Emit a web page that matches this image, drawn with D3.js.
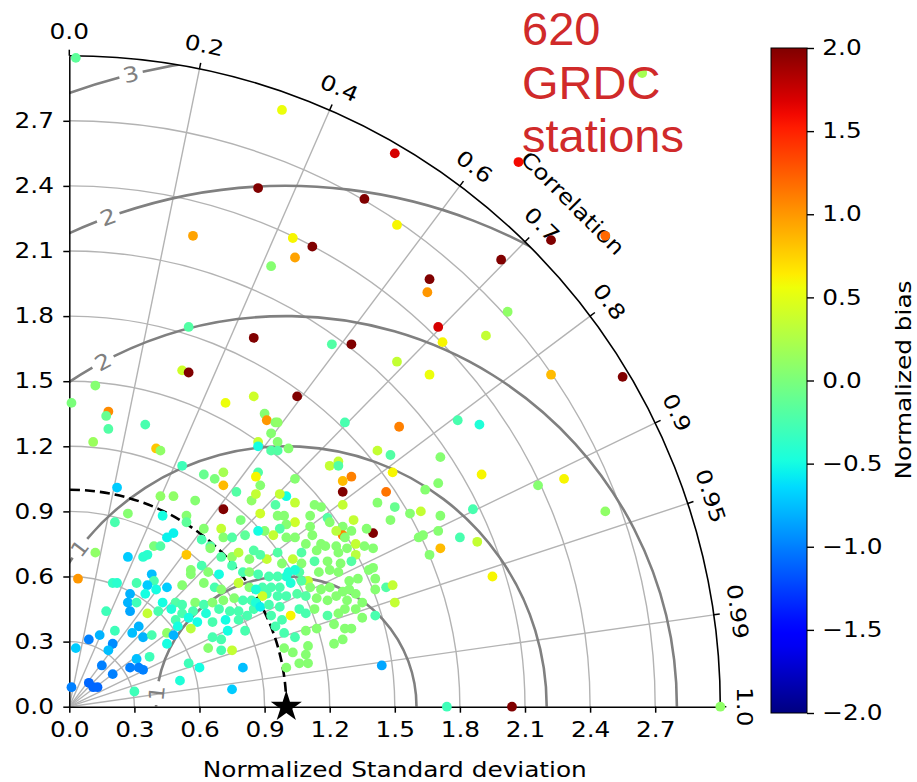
<!DOCTYPE html>
<html>
<head>
<meta charset="utf-8">
<script src="https://cdn.jsdelivr.net/npm/d3@7"></script>
<style>
  html, body { margin: 0; padding: 0; background: #fff; }
  svg { display: block; font-family: 'DejaVu Sans', sans-serif; }
</style>
</head>
<body>
<svg id="chart" width="917" height="782"></svg>
<script>
// normalized std of each station, split on the two "Normalized Standard deviation" axes
const sdX = [
  0.03, 0.87, 0.57, 0.98, 1.50, 1.36, 1.51, 1.03, 1.12, 1.04,
  1.99, 2.64, 2.07, 2.22, 2.47,
  0.93, 1.66, 1.65, 2.02, 1.70, 1.72, 1.92, 0.85, 1.21, 1.30,
  1.51, 1.66, 1.05, 0.85, 0.90, 0.91, 0.95, 0.96, 1.27, 1.52,
  1.79, 1.89, 0.93, 0.87, 0.96, 0.93, 0.96, 0.87, 1.01, 1.42,
  1.48, 1.71, 1.20, 1.24, 1.24, 1.49, 1.90, 1.30, 0.87, 0.86,
  1.86,
  0.55, 0.52, 0.55, 0.12, 0.01, 0.18, 0.17, 0.72,
  2.22, 2.55, 2.16, 2.28, 2.47, 2.04, 3.00, 1.88, 1.95, 1.74, 1.44,
  0.18, 0.35, 0.11, 0.40, 0.42, 0.52, 0.62, 0.67, 0.71, 0.71,
  0.22, 0.77, 0.42, 0.48, 0.58, 0.71, 0.84, 0.27, 0.43, 0.54,
  0.21, 0.54, 0.62, 0.70, 0.79, 0.81, 0.48, 0.45, 0.61, 0.71,
  0.65, 0.75, 0.39, 0.42, 0.12, 0.27, 0.34, 0.36, 0.54, 0.65,
  0.70, 0.75, 0.78, 0.83, 0.85, 0.38, 0.61, 0.56, 0.64, 0.69,
  0.75, 0.80, 0.83, 0.04, 0.20, 0.22, 0.31, 0.39, 0.36, 0.45,
  0.28, 0.35, 0.40, 0.52, 0.56, 0.62, 0.67, 0.70, 0.78, 0.83,
  0.27, 0.31, 0.43, 0.49, 0.52, 0.58, 0.62, 0.66, 0.71, 0.76,
  0.80, 0.84, 0.28, 0.36, 0.41, 0.47, 0.52, 0.57, 0.63, 0.69,
  0.74, 0.78, 0.85, 0.17, 0.49, 0.55, 0.59, 0.66, 0.72, 0.78,
  0.82, 0.32, 0.45, 0.56, 0.50, 0.21, 0.29, 0.66, 0.73, 0.81,
  0.09, 0.14, 0.20, 0.34, 0.38, 0.45, 0.48, 0.70, 0.75, 0.64,
  0.70, 0.03, 0.18, 0.31, 0.37, 0.15, 0.20, 0.28, 0.32, 0.34,
  0.55, 0.60, 0.80, 0.51, 0.75, 0.09, 0.11, 0.13, 0.01, 0.30,
  1.26, 1.26, 1.46, 1.42, 1.50, 1.48, 1.57, 1.62, 1.71, 1.70,
  1.63, 1.61, 1.80, 1.71, 1.66, 1.40, 1.37, 1.30, 1.31, 1.26,
  1.26, 1.23, 1.26, 1.19, 1.16, 1.04, 1.04, 1.00, 0.95, 0.88,
  0.86, 0.88, 0.96, 0.99, 1.04, 1.11, 1.13, 1.20, 1.27, 1.32,
  1.36, 1.40, 1.00, 0.97, 0.94, 0.90, 0.87, 1.11, 1.12, 1.16,
  1.18, 1.23, 1.28, 1.32, 1.24, 1.14, 1.09, 1.04, 1.00, 1.07,
  1.03, 0.96, 0.91, 0.88, 0.98, 1.07, 1.13, 1.19, 1.25, 1.30,
  1.38, 1.40, 1.41, 1.46, 1.49, 1.50, 1.41, 1.35, 1.32, 1.29,
  1.24, 1.20, 1.15, 1.10, 1.06, 1.01, 1.04, 1.00, 0.96, 0.92,
  0.87, 0.89, 0.93, 0.97, 1.02, 1.07, 1.11, 1.16, 1.20, 1.26,
  1.29, 1.28, 1.23, 1.19, 1.14, 1.09, 1.05, 1.00, 0.96, 0.91,
  0.89, 0.86, 0.88, 0.92, 0.97, 1.02, 1.06, 1.09, 1.13, 1.19,
  1.24, 1.27, 1.32, 1.35, 0.98, 0.93, 0.95, 0.99, 1.04, 1.09,
  1.14, 1.22, 1.27, 1.30, 1.22, 1.26, 1.10, 1.09, 1.10, 1.03,
  0.99, 1.00, 1.06, 0.86, 1.33, 1.41, 1.70, 1.64, 0.97
]
const sdY = [
  2.99, 2.39, 2.17, 2.75, 2.55, 2.34, 2.22, 2.16, 2.12, 2.07,
  2.06, 2.92, 2.51, 2.15, 2.17,
  2.03, 1.97, 1.91, 1.82, 1.75, 1.68, 1.71, 1.70, 1.67, 1.67,
  1.59, 1.53, 1.43, 1.43, 1.35, 1.32, 1.31, 1.31, 1.31, 1.29,
  1.32, 1.30, 1.26, 1.22, 1.22, 1.18, 1.18, 1.20, 1.19, 1.18,
  1.16, 1.15, 1.11, 1.13, 1.11, 1.08, 1.07, 1.06, 1.08, 1.06,
  0.91,
  1.75, 1.55, 1.54, 1.48, 1.40, 1.36, 1.34, 1.40,
  1.53, 1.52, 1.02, 1.05, 0.90, 0.00, 0.00, 0.76, 0.60, 0.00, 0.19,
  1.28, 1.30, 1.22, 1.19, 1.18, 1.11, 1.07, 1.05, 1.08, 1.02,
  1.01, 0.99, 0.97, 0.97, 0.95, 0.91, 0.95, 0.89, 0.88, 0.88,
  0.85, 0.85, 0.82, 0.82, 0.86, 0.79, 0.80, 0.78, 0.77, 0.78,
  0.74, 0.78, 0.74, 0.74, 0.71, 0.69, 0.69, 0.70, 0.70, 0.73,
  0.69, 0.69, 0.71, 0.68, 0.72, 0.61, 0.65, 0.63, 0.62, 0.61,
  0.65, 0.62, 0.62, 0.59, 0.57, 0.57, 0.57, 0.58, 0.56, 0.55,
  0.52, 0.52, 0.54, 0.56, 0.61, 0.57, 0.55, 0.54, 0.57, 0.55,
  0.48, 0.48, 0.48, 0.48, 0.47, 0.48, 0.47, 0.48, 0.49, 0.50,
  0.49, 0.49, 0.44, 0.43, 0.44, 0.45, 0.43, 0.44, 0.43, 0.45,
  0.44, 0.44, 0.45, 0.44, 0.40, 0.41, 0.39, 0.39, 0.40, 0.40,
  0.42, 0.37, 0.34, 0.36, 0.37, 0.35, 0.34, 0.32, 0.35, 0.35,
  0.31, 0.33, 0.29, 0.32, 0.33, 0.29, 0.33, 0.31, 0.26, 0.27,
  0.26, 0.27, 0.26, 0.22, 0.23, 0.19, 0.15, 0.18, 0.18, 0.17,
  0.20, 0.18, 0.18, 0.12, 0.08, 0.11, 0.09, 0.09, 0.09, 0.07,
  0.99, 1.04, 0.99, 0.94, 0.92, 0.86, 0.89, 0.90, 0.88, 0.81,
  0.79, 0.78, 0.78, 0.73, 0.70, 0.80, 0.82, 0.81, 0.86, 0.83,
  0.79, 0.81, 0.93, 0.87, 0.92, 1.05, 0.94, 0.97, 0.93, 1.02,
  0.98, 0.89, 0.88, 0.88, 0.85, 0.88, 0.93, 0.85, 0.78, 0.75,
  0.74, 0.73, 0.84, 0.82, 0.79, 0.81, 0.81, 0.83, 0.79, 0.75,
  0.74, 0.74, 0.73, 0.70, 0.71, 0.72, 0.75, 0.78, 0.78, 0.71,
  0.68, 0.71, 0.68, 0.70, 0.66, 0.66, 0.67, 0.67, 0.66, 0.67,
  0.63, 0.64, 0.59, 0.55, 0.56, 0.48, 0.42, 0.48, 0.52, 0.58,
  0.62, 0.63, 0.62, 0.58, 0.62, 0.62, 0.63, 0.60, 0.60, 0.60,
  0.61, 0.55, 0.55, 0.55, 0.57, 0.58, 0.55, 0.54, 0.55, 0.53,
  0.54, 0.49, 0.51, 0.49, 0.50, 0.51, 0.52, 0.51, 0.51, 0.52,
  0.51, 0.48, 0.46, 0.47, 0.46, 0.42, 0.45, 0.43, 0.45, 0.42,
  0.43, 0.45, 0.45, 0.41, 0.40, 0.42, 0.37, 0.34, 0.32, 0.35,
  0.36, 0.38, 0.36, 0.36, 0.29, 0.31, 0.28, 0.24, 0.20, 0.25,
  0.27, 0.18, 0.20, 0.54, 0.59, 0.54, 1.03, 1.00, 0.98
]
const bias = [
  -0.15, 2.0, 0.95, 0.55, 1.7, 2.0, 0.6, 0.6, 2.0, 0.95,
  2.0, 0.2, 1.6, 2.0, 1.2,
  0.05, 2.0, 1.0, 0.1, 1.7, 0.6, 0.35, 2.0, -0.2, 2.0,
  0.35, 0.55, 2.0, 0.4, 0.05, 1.0, 0.05, 0.1, -0.25, 1.1,
  -0.25, -0.45, 0.05, 0.35, 0.05, -0.2, -0.2, -0.5, 0.05, 0.35,
  -0.2, 0.05, 0.35, 0.35, -0.2, 0.6, 0.6, 1.1, -0.2, 0.6,
  -0.25,
  -0.2, 0.4, 2.0, 0.05, 0.0, 1.05, -0.1, 0.55,
  0.85, 2.0, 0.05, 0.6, 0.1, 2.0, 0.1, 0.35, 0.6, -0.3, -0.85,
  -0.2, -0.25, 0.15, 0.8, 0.1, -0.3, -0.1, 0.0, 0.2, 0.85,
  -0.7, -0.2, 0.1, 0.1, 0.05, 2.0, 0.1, 0.05, -0.5, 0.05,
  -0.25, -0.15, 0.05, 0.35, 0.0, -0.15, -0.55, -0.55, -0.25, 0.05,
  -0.2, -0.2, 0.0, -0.2, 0.1, -0.7, -0.4, -0.4, 0.8, 0.05,
  -0.2, 0.1, 0.3, 0.05, -0.2, -0.75, -0.25, 0.05, 0.05, -0.5,
  -0.25, -0.25, 0.05, 1.0, -0.35, -0.4, -0.25, -0.25, -0.7, -0.7,
  -0.8, -0.5, -0.5, 0.05, 0.05, 0.05, -0.25, 0.05, 0.35, 0.05,
  -0.8, -0.3, -0.5, -0.2, -0.25, 0.05, -0.25, 0.05, 0.05, 0.05,
  -0.25, -0.25, -0.85, 0.35, -0.25, -0.45, -0.25, -0.25, -0.45, -0.25,
  -0.25, -0.25, -0.25, -0.3, -0.25, -0.5, -0.5, -0.25, -0.5, -0.25,
  -0.25, -0.8, 0.1, 0.3, -0.5, -0.3, -0.75, -0.25, -0.5, -0.25,
  -1.0, -0.8, -0.95, -0.8, -0.25, -0.5, -0.8, -0.25, 0.35, 0.05,
  -0.25, -0.7, -0.75, -0.75, -0.3, -1.0, -1.0, -1.0, -1.0, -1.0,
  -0.3, -0.5, -0.75, -0.45, -0.7, -1.1, -1.1, -1.1, -1.0, -0.3,
  2.0, 0.85, 1.15, 0.05, -0.1, 0.05, 0.05, 0.35, 0.05, 0.05,
  0.05, 0.05, -0.25, 0.85, 0.05, 2.0, 0.05, 0.05, 0.35, 0.05,
  1.1, 0.3, 0.35, -0.2, 0.05, 0.05, 0.35, -0.5, -0.2, 0.05,
  0.35, 0.4, 0.05, 0.05, 0.4, 0.05, 0.05, 0.05, 0.05, 0.35,
  0.05, 0.05, 0.05, -0.2, 0.35, 0.05, -0.5, 0.05, 0.05, 0.05,
  0.05, 0.05, 0.05, 0.3, 0.05, 0.05, 0.05, 0.05, 0.05, -0.2,
  0.35, -0.2, 0.35, -0.2, 0.05, 0.05, -0.2, 0.05, 0.05, -0.2,
  0.05, 0.05, 0.05, -0.2, 0.35, 0.35, -0.25, 0.05, 0.05, 0.05,
  0.05, 0.05, 0.05, 0.35, -0.2, -0.45, -0.45, -0.45, -0.25, -0.25,
  -0.25, -0.25, -0.25, -0.25, -0.45, -0.2, 0.05, 0.05, 0.05, 0.05,
  0.05, 0.05, 0.05, 0.05, 0.05, -0.2, -0.2, -0.25, -0.25, -0.25,
  0.4, -0.45, -0.55, -0.25, -0.25, 0.6, -0.25, -0.25, 0.05, -0.2,
  0.05, 0.05, 0.05, 0.05, -0.25, -0.25, -0.25, -0.25, -0.25, 0.05,
  0.05, 0.05, 0.05, 0.05, 0.05, 0.05, 0.05, 0.05, 0.05, 0.05,
  0.05, 0.05, 0.05, -0.45, 0.05, 0.05, 0.05, 0.05, 0.35
]

const stdTicks = [0, 0.3, 0.6, 0.9, 1.2, 1.5, 1.8, 2.1, 2.4, 2.7]
const corrTicks = [0, 0.2, 0.4, 0.6, 0.7, 0.8, 0.9, 0.95, 0.99, 1.0]
const rmsLevels = [0.6, 1.2, 1.8, 2.4, 3.0]
const rmsLabelAngle = [174, 142.5, 118, 110, 103.8]   // where the contour labels sit (deg, around the ref point)
const biasTicks = [-2, -1.5, -1, -0.5, 0, 0.5, 1, 1.5, 2]
const titleLines = ['620', 'GRDC', 'stations']
const refStd = 1.0
const maxStd = 3.0
const wide = 'scale(1.18,1)'   // the figure's lettering is set wide

// matplotlib "jet"
const jetR = d3.scaleLinear().domain([0, 0.35, 0.66, 0.89, 1]).range([0, 0, 1, 1, 0.5]).clamp(true)
const jetG = d3.scaleLinear().domain([0, 0.125, 0.375, 0.64, 0.91, 1]).range([0, 0, 1, 1, 0, 0]).clamp(true)
const jetB = d3.scaleLinear().domain([0, 0.11, 0.34, 0.65, 1]).range([0.5, 1, 1, 0, 0]).clamp(true)
const jet = t => d3.rgb(jetR(t) * 255, jetG(t) * 255, jetB(t) * 255).formatHex()
const norm = d3.scaleLinear().domain([-2, 2]).range([0, 1]).clamp(true)
const color = v => jet(norm(v))

const svg = d3.select('#chart')
const x = d3.scaleLinear().domain([0, maxStd]).range([69.3, 720.3])
const y = d3.scaleLinear().domain([0, maxStd]).range([706.7, 55.7])
const k = x(1) - x(0)
const ox = x(0), oy = y(0)
const R = x(maxStd) - ox

svg.append('defs').append('clipPath').attr('id', 'quarter')
  .append('path')
  .attr('d', `M${ox},${oy}L${x(maxStd)},${oy}A${R},${R} 0 0 0 ${ox},${y(maxStd)}Z`)

// light grid
let grid = svg.append('g').attr('stroke', '#b3b3b3').attr('stroke-width', 1.4).attr('fill', 'none')
stdTicks.filter(d => d > 0).forEach(r => {
  let p = d3.path()
  p.moveTo(x(r), oy)
  p.arc(ox, oy, r * k, 0, -Math.PI / 2, true)
  grid.append('path').attr('d', p.toString())
})
corrTicks.filter(c => c > 0 && c < 1).forEach(c => {
  let a = Math.acos(c)
  grid.append('line')
    .attr('x1', ox).attr('y1', oy)
    .attr('x2', x(maxStd * Math.cos(a))).attr('y2', y(maxStd * Math.sin(a)))
})

// centred RMS difference contours
let rms = svg.append('g').attr('clip-path', 'url(#quarter)')
let cx = x(refStd), cy = y(0)
rmsLevels.forEach((lev, i) => {
  let rp = lev * k
  let phi = rmsLabelAngle[i] * Math.PI / 180
  let gap = 12 / rp
  let p = d3.path()
  p.moveTo(cx + rp, cy)
  p.arc(cx, cy, rp, 0, -(phi - gap), true)
  p.moveTo(cx + rp * Math.cos(phi + gap), cy - rp * Math.sin(phi + gap))
  p.arc(cx, cy, rp, -(phi + gap), -Math.PI, true)
  rms.append('path').attr('d', p.toString())
    .attr('fill', 'none').attr('stroke', '#808080').attr('stroke-width', 2.6)
  let lx = x(refStd + lev * Math.cos(phi)), ly = y(lev * Math.sin(phi))
  let rot = Math.atan2(-Math.cos(phi), -Math.sin(phi)) * 180 / Math.PI
  if (rot > 90) rot -= 180
  if (rot <= -90) rot += 180
  svg.append('text')
    .attr('transform', `translate(${lx},${ly}) rotate(${rot}) ${wide}`)
    .attr('text-anchor', 'middle').attr('dominant-baseline', 'central')
    .attr('fill', '#808080').attr('font-size', 21)
    .text(d3.format('.0f')(lev))
})

// reference std arc
let ref = d3.path()
ref.moveTo(x(refStd), oy)
ref.arc(ox, oy, refStd * k, 0, -Math.PI / 2, true)
svg.append('path').attr('d', ref.toString())
  .attr('fill', 'none').attr('stroke', '#000').attr('stroke-width', 2.6)
  .attr('stroke-dasharray', '10,5')

// axes
let xAxis = svg.append('g').attr('transform', `translate(0,${oy})`)
  .call(d3.axisBottom(x).tickValues(stdTicks).tickFormat(d3.format('.1f')).tickSizeInner(6).tickSizeOuter(0).tickPadding(9))
let yAxis = svg.append('g').attr('transform', `translate(${ox},0)`)
  .call(d3.axisLeft(y).tickValues(stdTicks).tickFormat(d3.format('.1f')).tickSizeInner(6).tickSizeOuter(0).tickPadding(7))
;[xAxis, yAxis].forEach(a => {
  a.selectAll('path, line').attr('stroke', '#000').attr('stroke-width', 1.5)
  a.selectAll('text').attr('font-size', 21).attr('fill', '#000')
    .attr('font-family', 'DejaVu Sans').attr('transform', wide)
})

let outer = d3.path()
outer.moveTo(x(maxStd), oy)
outer.arc(ox, oy, R, 0, -Math.PI / 2, true)
svg.append('path').attr('d', outer.toString())
  .attr('fill', 'none').attr('stroke', '#000').attr('stroke-width', 1.6)

// correlation ticks and labels
let corrG = svg.append('g')
corrTicks.forEach(c => {
  let a = Math.acos(c)
  let ca = Math.cos(a), sa = Math.sin(a)
  corrG.append('line')
    .attr('x1', ox + R * ca).attr('y1', oy - R * sa)
    .attr('x2', ox + (R + 6) * ca).attr('y2', oy - (R + 6) * sa)
    .attr('stroke', '#000').attr('stroke-width', 1.5)
  let lr = R + 24
  corrG.append('text')
    .attr('transform', `translate(${ox + lr * ca},${oy - lr * sa}) rotate(${90 - a * 180 / Math.PI}) ${wide}`)
    .attr('text-anchor', 'middle').attr('dominant-baseline', 'central')
    .attr('font-size', 21)
    .text(c === 0 || c === 1 ? c.toFixed(1) : String(c))
})
let ca45 = Math.PI / 4
corrG.append('text')
  .attr('transform', `translate(${ox + (R + 61) * Math.cos(ca45)},${oy - (R + 61) * Math.sin(ca45)}) rotate(45) ${wide}`)
  .attr('text-anchor', 'middle').attr('dominant-baseline', 'central')
  .attr('font-size', 21)
  .text('Correlation')

svg.append('text')
  .attr('transform', `translate(${(x(0) + x(maxStd)) / 2},777) ${wide}`)
  .attr('text-anchor', 'middle').attr('font-size', 21)
  .text('Normalized Standard deviation')

// stations
svg.append('g').selectAll('circle')
  .data(d3.range(sdX.length))
  .enter().append('circle')
  .attr('cx', i => x(sdX[i]))
  .attr('cy', i => y(sdY[i]))
  .attr('r', 4.9)
  .attr('fill', i => color(bias[i]))

svg.append('path')
  .attr('d', d3.symbol().type(d3.symbolStar).size(300)())
  .attr('transform', `translate(${x(refStd)},${y(0)})`)
  .attr('fill', '#000')

// colorbar
let cb = d3.scaleLinear().domain([-2, 2]).range([713, 48])
let grad = svg.select('defs').append('linearGradient').attr('id', 'jet')
  .attr('x1', 0).attr('y1', 1).attr('x2', 0).attr('y2', 0)
d3.range(0, 1.0001, 0.02).forEach(t => {
  grad.append('stop').attr('offset', t).attr('stop-color', jet(t))
})
svg.append('rect')
  .attr('x', 771).attr('y', cb(2)).attr('width', 36).attr('height', cb(-2) - cb(2))
  .attr('fill', 'url(#jet)').attr('stroke', '#000').attr('stroke-width', 1)
let cbAxis = svg.append('g').attr('transform', 'translate(807,0)')
  .call(d3.axisRight(cb).tickValues(biasTicks).tickFormat(d3.format('.1f')).tickSizeInner(7).tickSizeOuter(0).tickPadding(6))
cbAxis.select('.domain').remove()
cbAxis.selectAll('line').attr('stroke', '#000').attr('stroke-width', 1.4)
cbAxis.selectAll('text').attr('font-size', 21).attr('fill', '#000')
  .attr('font-family', 'DejaVu Sans').attr('transform', wide)

svg.append('text')
  .attr('transform', `translate(904,380) rotate(-90) ${wide}`)
  .attr('text-anchor', 'middle').attr('dominant-baseline', 'central')
  .attr('font-size', 21)
  .text('Normalized bias')

svg.append('g').selectAll('text')
  .data(titleLines)
  .enter().append('text')
  .attr('x', 522)
  .attr('y', (d, i) => 45 + i * 53.5)
  .attr('font-family', 'Liberation Sans, Arial, sans-serif')
  .attr('font-size', 47)
  .attr('fill', '#d02a2a')
  .text(d => d)
</script>
</body>
</html>
